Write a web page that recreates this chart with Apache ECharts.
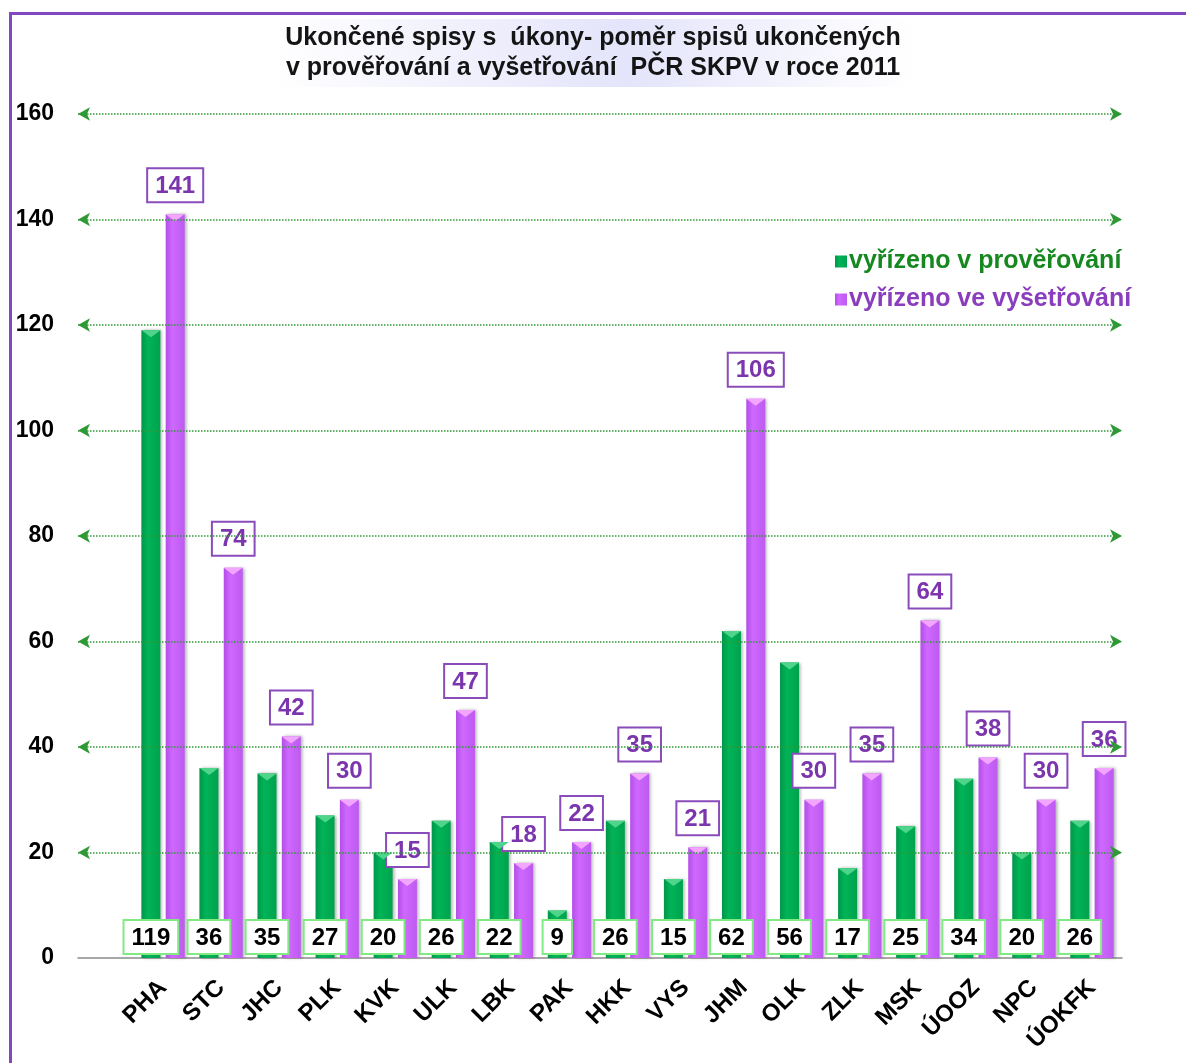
<!DOCTYPE html>
<html>
<head>
<meta charset="utf-8">
<script src="https://cdn.jsdelivr.net/npm/echarts@6/dist/echarts.min.js"></script>
<style>
html,body{margin:0;padding:0;background:#fff;}
#main{width:1186px;height:1063px;}
</style>
</head>
<body>
<div id="main"></div>
<script>
const categories = ['PHA','STC','JHC','PLK','KVK','ULK','LBK','PAK','HKK','VYS','JHM','OLK','ZLK','MSK','ÚOOZ','NPC','ÚOKFK'];
const proverovani = [119,36,35,27,20,26,22,9,26,15,62,56,17,25,34,20,26];
const vysetrovani = [141,74,42,30,15,47,18,22,35,21,106,30,35,64,38,30,36];
const yTicks = [20,40,60,80,100,120,140,160];
const seriesNames = ['vyřízeno v prověřování','vyřízeno ve vyšetřování'];
const titleText = 'Ukončené spisy s  úkony- poměr spisů ukončených\nv prověřování a vyšetřování  PČR SKPV v roce 2011';

const FONT = '"Liberation Sans", Arial, sans-serif';
const chart = echarts.init(document.getElementById('main'));

const greenGrad = new echarts.graphic.LinearGradient(0,0,1,0,[
  {offset:0,color:'#00964a'},{offset:0.35,color:'#00b457'},{offset:1,color:'#00a24e'}]);
const purpleGrad = new echarts.graphic.LinearGradient(0,0,1,0,[
  {offset:0,color:'#b24fe6'},{offset:0.35,color:'#cf68ff'},{offset:1,color:'#bd5af0'}]);
const TRI = 'path://M0,0 L20,0 L10,8 Z';

const option = {
  backgroundColor:'#fff',
  animation:false,
  graphic:[{
    type:'rect', left:8, top:11, z:-10,
    shape:{width:1300,height:1200},
    style:{fill:'none',stroke:'#8447c2',lineWidth:3}
  }],
  title:{
    text:titleText,
    left:'center', top:19,
    padding:[4,14,4,14],
    backgroundColor:new echarts.graphic.LinearGradient(0,0,1,0,[
      {offset:0,color:'rgba(255,255,255,1)'},{offset:0.55,color:'#e4e4fb'},{offset:1,color:'rgba(255,255,255,1)'}]),
    textStyle:{fontFamily:FONT,fontSize:25,fontWeight:'bold',color:'#141414',lineHeight:30}
  },
  legend:{
    orient:'vertical', left:830, top:244,
    itemWidth:12, itemHeight:12, itemGap:13, icon:'rect',
    textStyle:{fontFamily:FONT,fontSize:25,fontWeight:'bold',padding:[0,0,0,-3]},
    data:[
      {name:seriesNames[0],textStyle:{color:'#16881f'}},
      {name:seriesNames[1],textStyle:{color:'#8a3dbd'}}
    ]
  },
  grid:[
    {left:134,right:65,top:114,bottom:105},
    {left:78,right:64,top:114,bottom:105}
  ],
  xAxis:[
    {type:'category',gridIndex:0,data:categories,
     axisLine:{show:false},axisTick:{show:false},
     axisLabel:{rotate:45,margin:26,interval:0,fontFamily:FONT,fontSize:24,fontWeight:'bold',color:'#000'}},
    {type:'value',gridIndex:1,min:0,max:1,
     axisLine:{show:true,lineStyle:{color:'#8c8c8c',width:1.5}},
     axisTick:{show:false},axisLabel:{show:false},splitLine:{show:false}}
  ],
  yAxis:[
    {type:'value',gridIndex:0,min:0,max:160,interval:20,show:false,splitLine:{show:false}},
    {type:'value',gridIndex:1,min:0,max:160,interval:20,
     axisLine:{show:false},axisTick:{show:false},splitLine:{show:false},
     axisLabel:{margin:24,fontFamily:FONT,fontSize:23,fontWeight:'bold',color:'#000'}}
  ],
  series:[
    {
      name:seriesNames[0], type:'bar', xAxisIndex:0, yAxisIndex:0,
      data:proverovani, barWidth:19, barGap:'28%',
      itemStyle:{color:greenGrad,shadowColor:'rgba(0,0,0,0.3)',shadowBlur:3,shadowOffsetX:2},
      label:{show:true,position:'insideBottom',distance:5,
        fontFamily:FONT,fontSize:24,fontWeight:'bold',color:'#000',
        backgroundColor:'#fff',borderColor:'#82ea82',borderWidth:2,padding:[5,7,3,7]}
    },
    {
      name:seriesNames[1], type:'bar', xAxisIndex:0, yAxisIndex:0,
      data:vysetrovani, barWidth:19,
      itemStyle:{color:purpleGrad,shadowColor:'rgba(0,0,0,0.3)',shadowBlur:3,shadowOffsetX:2},
      label:{show:true,position:'top',distance:13,
        fontFamily:FONT,fontSize:24,fontWeight:'bold',color:'#7b36ad',
        backgroundColor:'#fff',borderColor:'#8a4bbb',borderWidth:2,padding:[5,7,3,7]}
    },
    {
      name:'topG', type:'pictorialBar', xAxisIndex:0, yAxisIndex:0,
      data:proverovani, barWidth:19, silent:true, z:3,
      symbol:TRI, symbolPosition:'end', symbolSize:[19,7], symbolOffset:[-12,0],
      itemStyle:{color:'#4fd48c'}
    },
    {
      name:'topP', type:'pictorialBar', xAxisIndex:0, yAxisIndex:0,
      data:vysetrovani, barWidth:19, silent:true, z:3,
      symbol:TRI, symbolPosition:'end', symbolSize:[19,7], symbolOffset:[12,0],
      itemStyle:{color:'#f3a6ff'}
    },
    {
      name:'grid', type:'line', xAxisIndex:1, yAxisIndex:1, data:[], silent:true,
      markLine:{
        silent:true, symbol:['arrow','arrow'], symbolSize:[10,12],
        label:{show:false},
        lineStyle:{type:'dotted',color:'#2f9a35',width:1.5},
        data:yTicks.map(v=>({yAxis:v}))
      }
    }
  ]
};
chart.setOption(option);
</script>
</body>
</html>
